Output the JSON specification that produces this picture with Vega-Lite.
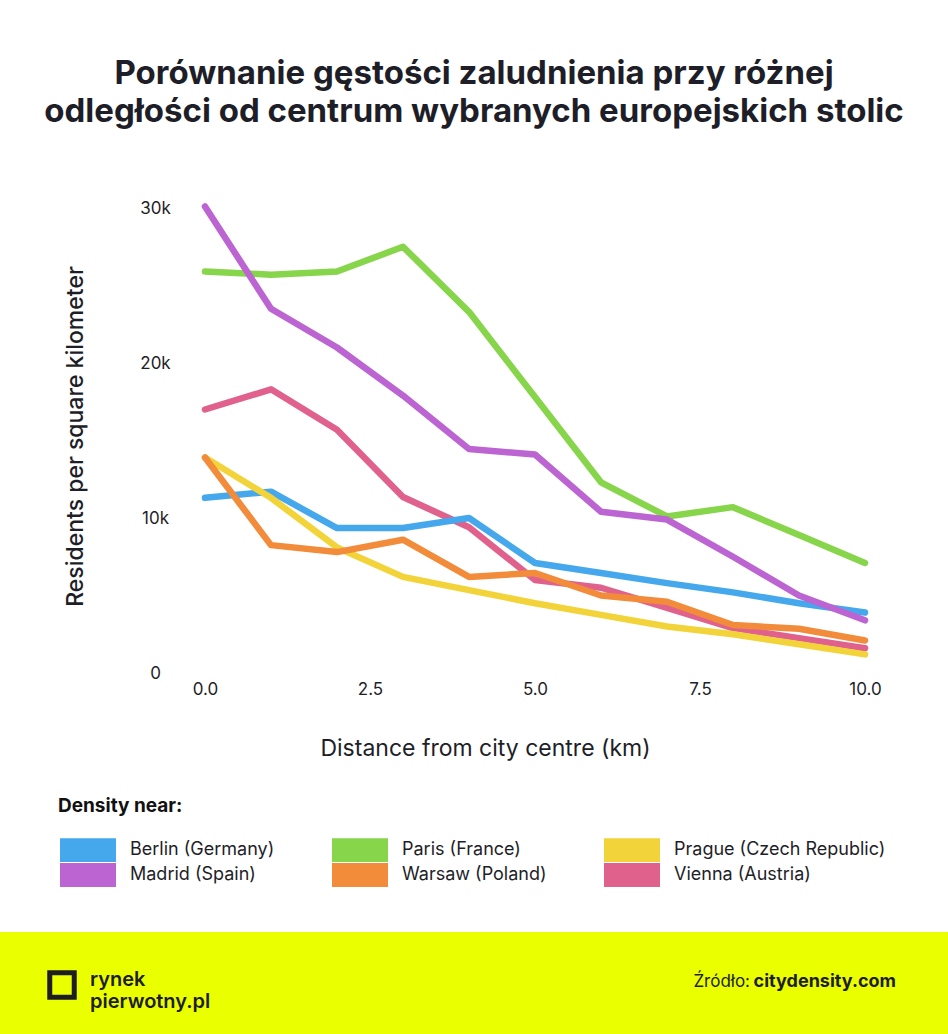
{
  "$schema": "https://vega.github.io/schema/vega-lite/v6.json",
  "padding": {"top": 58, "left": 0, "right": 0, "bottom": 0},
  "background": "white",
  "spacing": 0,
  "bounds": "flush",
  "title": {
    "text": ["Porównanie gęstości zaludnienia przy różnej", "odległości od centrum wybranych europejskich stolic"],
    "anchor": "middle",
    "font": "Inter",
    "fontSize": 33,
    "fontWeight": 700,
    "lineHeight": 38,
    "color": "#1e1e28",
    "offset": 11
  },
  "vconcat": [
    {
      "width": 948,
      "height": 792,
      "data": {
        "values": [
          {"city": "Vienna (Austria)", "km": 0, "density": 17000},
          {"city": "Vienna (Austria)", "km": 1, "density": 18300},
          {"city": "Vienna (Austria)", "km": 2, "density": 15700},
          {"city": "Vienna (Austria)", "km": 3, "density": 11350},
          {"city": "Vienna (Austria)", "km": 4, "density": 9400},
          {"city": "Vienna (Austria)", "km": 5, "density": 6000},
          {"city": "Vienna (Austria)", "km": 6, "density": 5500},
          {"city": "Vienna (Austria)", "km": 7, "density": 4200},
          {"city": "Vienna (Austria)", "km": 8, "density": 2900},
          {"city": "Vienna (Austria)", "km": 9, "density": 2250},
          {"city": "Vienna (Austria)", "km": 10, "density": 1600},
          {"city": "Berlin (Germany)", "km": 0, "density": 11300},
          {"city": "Berlin (Germany)", "km": 1, "density": 11700},
          {"city": "Berlin (Germany)", "km": 2, "density": 9350},
          {"city": "Berlin (Germany)", "km": 3, "density": 9350},
          {"city": "Berlin (Germany)", "km": 4, "density": 10000},
          {"city": "Berlin (Germany)", "km": 5, "density": 7100},
          {"city": "Berlin (Germany)", "km": 6, "density": 6450},
          {"city": "Berlin (Germany)", "km": 7, "density": 5800},
          {"city": "Berlin (Germany)", "km": 8, "density": 5200},
          {"city": "Berlin (Germany)", "km": 9, "density": 4500},
          {"city": "Berlin (Germany)", "km": 10, "density": 3900},
          {"city": "Paris (France)", "km": 0, "density": 25900},
          {"city": "Paris (France)", "km": 1, "density": 25700},
          {"city": "Paris (France)", "km": 2, "density": 25900},
          {"city": "Paris (France)", "km": 3, "density": 27500},
          {"city": "Paris (France)", "km": 4, "density": 23300},
          {"city": "Paris (France)", "km": 5, "density": 17800},
          {"city": "Paris (France)", "km": 6, "density": 12300},
          {"city": "Paris (France)", "km": 7, "density": 10100},
          {"city": "Paris (France)", "km": 8, "density": 10700},
          {"city": "Paris (France)", "km": 9, "density": 8900},
          {"city": "Paris (France)", "km": 10, "density": 7100},
          {"city": "Madrid (Spain)", "km": 0, "density": 30100},
          {"city": "Madrid (Spain)", "km": 1, "density": 23500},
          {"city": "Madrid (Spain)", "km": 2, "density": 21000},
          {"city": "Madrid (Spain)", "km": 3, "density": 17900},
          {"city": "Madrid (Spain)", "km": 4, "density": 14450},
          {"city": "Madrid (Spain)", "km": 5, "density": 14100},
          {"city": "Madrid (Spain)", "km": 6, "density": 10400},
          {"city": "Madrid (Spain)", "km": 7, "density": 9900},
          {"city": "Madrid (Spain)", "km": 8, "density": 7500},
          {"city": "Madrid (Spain)", "km": 9, "density": 5000},
          {"city": "Madrid (Spain)", "km": 10, "density": 3400},
          {"city": "Prague (Czech Republic)", "km": 0, "density": 13900},
          {"city": "Prague (Czech Republic)", "km": 1, "density": 11300},
          {"city": "Prague (Czech Republic)", "km": 2, "density": 8100},
          {"city": "Prague (Czech Republic)", "km": 3, "density": 6200},
          {"city": "Prague (Czech Republic)", "km": 4, "density": 5350},
          {"city": "Prague (Czech Republic)", "km": 5, "density": 4500},
          {"city": "Prague (Czech Republic)", "km": 6, "density": 3750},
          {"city": "Prague (Czech Republic)", "km": 7, "density": 3000},
          {"city": "Prague (Czech Republic)", "km": 8, "density": 2500},
          {"city": "Prague (Czech Republic)", "km": 9, "density": 1850},
          {"city": "Prague (Czech Republic)", "km": 10, "density": 1200},
          {"city": "Warsaw (Poland)", "km": 0, "density": 13900},
          {"city": "Warsaw (Poland)", "km": 1, "density": 8250},
          {"city": "Warsaw (Poland)", "km": 2, "density": 7800},
          {"city": "Warsaw (Poland)", "km": 3, "density": 8600},
          {"city": "Warsaw (Poland)", "km": 4, "density": 6200},
          {"city": "Warsaw (Poland)", "km": 5, "density": 6450},
          {"city": "Warsaw (Poland)", "km": 6, "density": 5000},
          {"city": "Warsaw (Poland)", "km": 7, "density": 4600},
          {"city": "Warsaw (Poland)", "km": 8, "density": 3100},
          {"city": "Warsaw (Poland)", "km": 9, "density": 2850},
          {"city": "Warsaw (Poland)", "km": 10, "density": 2100}
        ]
      },
      "mark": {"type": "line", "strokeWidth": 6.5, "strokeCap": "round", "strokeJoin": "round"},
      "encoding": {
        "x": {
          "field": "km",
          "type": "quantitative",
          "scale": {"domain": [0, 10], "range": [205, 865], "nice": false, "zero": false},
          "axis": {
            "title": "Distance from city centre (km)",
            "values": [0, 2.5, 5, 7.5, 10],
            "format": ".1f",
            "offset": -259,
            "labelPadding": 8,
            "labelFlush": false,
            "labelOverlap": false,
            "titleX": 485,
            "titleY": 75,
            "titleBaseline": "middle",
            "titleFontWeight": 400,
            "titleFontSize": 23
          }
        },
        "y": {
          "field": "density",
          "type": "quantitative",
          "scale": {"domain": [0, 30000], "range": [533, 68], "nice": false},
          "axis": {
            "title": "Residents per square kilometer",
            "values": [0, 10000, 20000, 30000],
            "labelExpr": "datum.value == 0 ? '0' : (datum.value / 1000) + 'k'",
            "offset": -205,
            "labelAlign": "center",
            "labelPadding": 50,
            "labelFlush": false,
            "titleX": -130,
            "titleY": 296,
            "titleBaseline": "middle",
            "titleFontWeight": 500,
            "titleFontSize": 23
          }
        },
        "color": {
          "field": "city",
          "type": "nominal",
          "scale": {
            "domain": ["Berlin (Germany)", "Madrid (Spain)", "Paris (France)", "Warsaw (Poland)", "Prague (Czech Republic)", "Vienna (Austria)"],
            "range": ["#45a8ec", "#bb64d2", "#86d54a", "#f28b3a", "#f2d43a", "#e0628c"]
          },
          "legend": {
            "title": "Density near:",
            "orient": "none",
            "legendX": 58,
            "legendY": 657,
            "columns": 3,
            "columnPadding": 55,
            "rowPadding": 1,
            "padding": 0,
            "symbolType": "M-1,-1.7H7V1.7H-1Z",
            "symbolSize": 196,
            "symbolStrokeWidth": 0,
            "labelOffset": 54,
            "labelLimit": 400,
            "labelFont": "Inter",
            "labelFontSize": 18,
            "labelColor": "#1e1e28",
            "titleFont": "Inter",
            "titleFontSize": 19,
            "titleFontWeight": 700,
            "titleColor": "#111111",
            "titlePadding": 25,
            "encode": {
              "symbols": {
                "update": {
                  "fill": {"scale": "color", "field": "value"},
                  "stroke": {"value": "transparent"},
                  "opacity": {"value": 1}
                }
              }
            }
          }
        }
      }
    },
    {
      "width": 948,
      "height": 102,
      "view": {"fill": "#eaff00", "stroke": null},
      "data": {
        "values": [
          {"side": "left", "part": "logo", "label": ""},
          {"side": "left", "part": "brand", "label": "rynek\npierwotny.pl"},
          {"side": "right", "part": "src", "label": "Źródło:"},
          {"side": "right", "part": "site", "label": "citydensity.com"}
        ]
      },
      "encoding": {
        "x": {
          "field": "side",
          "type": "nominal",
          "scale": {"type": "point", "domain": ["left", "right"], "range": [90, 896], "padding": 0},
          "axis": null
        }
      },
      "layer": [
        {
          "transform": [{"filter": "datum.part === 'logo'"}],
          "mark": {"type": "point", "shape": "square", "filled": false, "stroke": "#1d1d22", "strokeWidth": 5, "size": 600, "opacity": 1, "xOffset": -28, "yOffset": 2}
        },
        {
          "transform": [{"filter": "datum.part === 'brand'"}],
          "mark": {"type": "text", "align": "left", "baseline": "middle", "lineBreak": "\n", "font": "Inter", "fontSize": 20, "fontWeight": 600, "lineHeight": 22, "color": "#1d1d22", "dy": -3},
          "encoding": {"text": {"field": "label"}}
        },
        {
          "transform": [{"filter": "datum.part === 'src'"}],
          "mark": {"type": "text", "align": "right", "baseline": "middle", "font": "Inter", "fontSize": 17, "fontWeight": 400, "color": "#1d1d22", "dx": -146, "dy": -1},
          "encoding": {"text": {"field": "label"}}
        },
        {
          "transform": [{"filter": "datum.part === 'site'"}],
          "mark": {"type": "text", "align": "right", "baseline": "middle", "font": "Inter", "fontSize": 18, "fontWeight": 700, "color": "#1d1d22", "dy": -1},
          "encoding": {"text": {"field": "label"}}
        }
      ]
    }
  ],
  "config": {
    "font": "Inter",
    "view": {"stroke": null},
    "axis": {
      "domain": false,
      "ticks": false,
      "grid": false,
      "labelFont": "Inter",
      "labelFontSize": 17,
      "labelColor": "#1e1e28",
      "titleFont": "Inter",
      "titleColor": "#1e1e28"
    }
  }
}
